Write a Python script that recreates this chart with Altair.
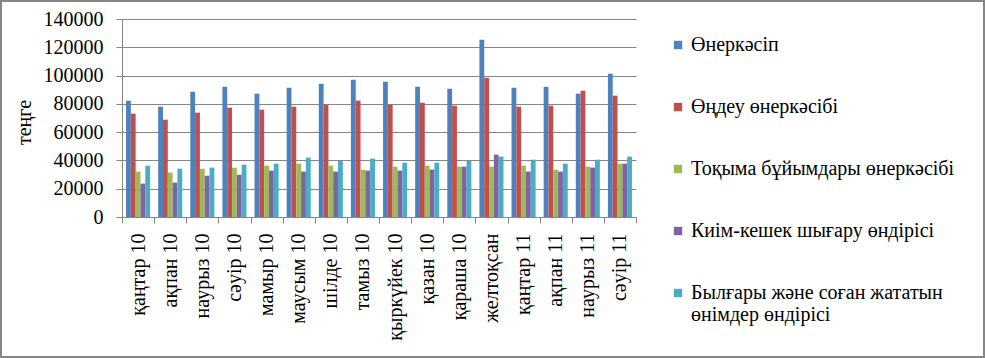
import altair as alt
import pandas as pd

months = ["қаңтар 10", "ақпан 10", "наурыз 10", "сәуір 10", "мамыр 10", "маусым 10",
          "шілде 10", "тамыз 10", "қыркүйек 10", "қазан 10", "қараша 10", "желтоқсан",
          "қаңтар 11", "ақпан 11", "наурыз 11", "сәуір 11"]

series = ["Өнеркәсіп", "Өңдеу өнеркәсібі", "Тоқыма бұйымдары өнеркәсібі",
          "Киім-кешек шығару өндірісі", "Былғары және соған жататын өнімдер өндірісі"]

industry = [82200, 78000, 88600, 92100, 87200, 91400, 94300, 97100, 95700, 92100, 90700, 125400, 91400, 92100, 87200, 101300]
processing = [73100, 68800, 73800, 77300, 75900, 78000, 79400, 82300, 79400, 80800, 78700, 98500, 78000, 78700, 89300, 85800]
textile = [32100, 31400, 34200, 34900, 36300, 37700, 36300, 33500, 35600, 36300, 35600, 35600, 36300, 33500, 35600, 37700]
clothing = [23600, 24300, 29200, 29900, 32800, 32100, 32100, 32800, 32800, 33500, 35600, 44100, 32100, 32100, 34900, 37700]
leather = [36300, 34200, 34900, 37000, 37700, 42000, 39600, 41300, 38400, 38400, 39600, 42700, 40500, 37700, 40500, 42700]

colors = ["#4F81BD", "#C0504D", "#9BBB59", "#8064A2", "#4BACC6"]

rows = []
for s, vals in zip(series, [industry, processing, textile, clothing, leather]):
    for m, v in zip(months, vals):
        rows.append({"month": m, "series": s, "value": v})
df = pd.DataFrame(rows)

FONT = "Liberation Serif"
GRID = "#868686"

bars = alt.Chart(df).mark_bar().encode(
    x=alt.X("month:N", sort=months, title=None,
            scale=alt.Scale(paddingInner=0, paddingOuter=0),
            axis=alt.Axis(labelAngle=-90, labelAlign="right", labelBaseline="middle",
                          tickBand="extent", tickSize=6, labelPadding=10, grid=False,
                          labelFont=FONT, labelFontSize=20, labelColor="black",
                          domainColor=GRID, tickColor=GRID)),
    xOffset=alt.XOffset("series:N", sort=series,
                        scale=alt.Scale(paddingOuter=0.84, paddingInner=0)),
    y=alt.Y("value:Q", title="теңге",
            scale=alt.Scale(domain=[0, 140000], nice=False),
            axis=alt.Axis(values=[0, 20000, 40000, 60000, 80000, 100000, 120000, 140000],
                          format="d", tickSize=6, labelPadding=13,
                          labelFont=FONT, labelFontSize=20, labelColor="black",
                          titleFont=FONT, titleFontSize=20, titleFontWeight="normal",
                          titleColor="black",
                          domainColor=GRID, tickColor=GRID, gridColor=GRID,
                          titleAngle=-90, titleX=-98, titleY=103,
                          titleAlign="center", titleBaseline="middle")),
    color=alt.Color("series:N", sort=series,
                    scale=alt.Scale(domain=series, range=colors),
                    legend=alt.Legend(title=None, orient="none", legendX=546, legendY=16,
                                      symbolType="square", symbolSize=70,
                                      symbolStrokeWidth=0, rowPadding=42, labelOffset=3,
                                      labelLimit=400, labelFont=FONT, labelFontSize=20,
                                      labelColor="black",
                                      labelExpr="datum.label == 'Былғары және соған жататын өнімдер өндірісі' ? ['Былғары және соған жататын', 'өнімдер өндірісі'] : datum.label")),
)

border = alt.Chart(alt.Data(values=[{}])).mark_rect(
    fill="transparent", stroke="#868686", strokeWidth=2, clip=False
).encode(x=alt.value(-121), x2=alt.value(862), y=alt.value(-18), y2=alt.value(338))

chart = alt.layer(bars, border).properties(
    width=514, height=198,
    autosize=alt.AutoSizeParams(type="none"),
    padding={"left": 122, "top": 19, "right": 349, "bottom": 141},
).configure_view(stroke=None).configure_axis(
    gridWidth=1, domainWidth=1, tickWidth=1,
).configure_legend(
    labelFont=FONT, labelFontSize=20, labelColor="black",
)

chart.save("out.html", embed_options={"renderer": "svg", "actions": False})
